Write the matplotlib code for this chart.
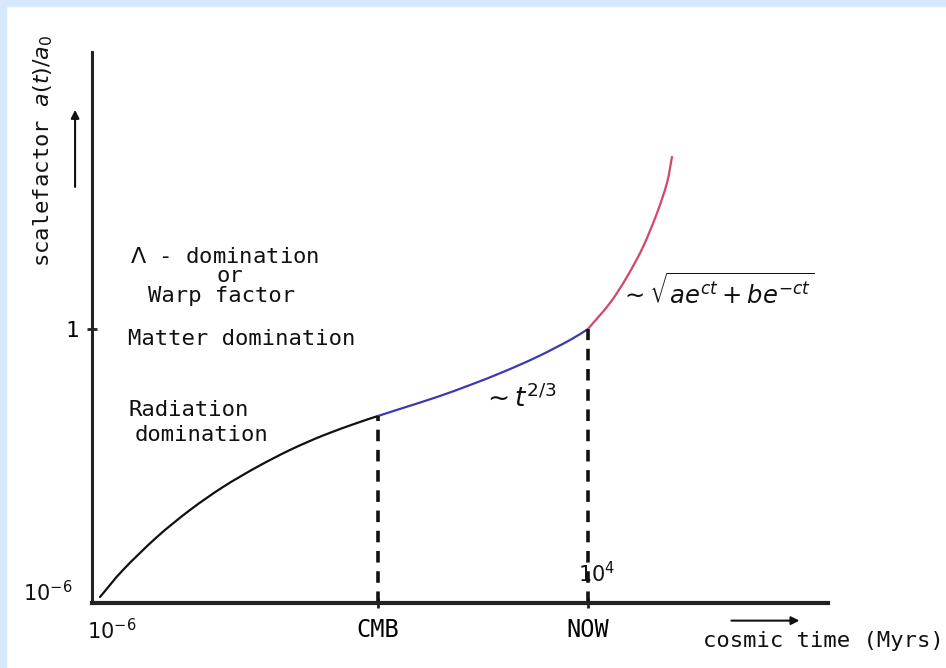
import numpy as np
import matplotlib.pyplot as plt
from matplotlib.patches import Rectangle, PathPatch
from matplotlib.path import Path

# schematic units (0-100 on both axes)
t_rad = [1.09, 4.21, 8.83, 13.32, 17.80, 22.42, 26.90, 31.39, 36.01, 38.86]
a_rad = [1.09, 5.99, 11.98, 16.88, 21.05, 24.68, 27.77, 30.40, 32.67, 33.94]

t_mat = [38.86, 42.26, 46.88, 51.36, 55.84, 60.46, 64.95, 67.39]
a_mat = [33.94, 35.40, 37.39, 39.56, 41.92, 44.65, 47.73, 49.73]

t_lam = [67.39, 70.38, 72.69, 74.86, 76.77, 78.12, 78.80]
a_lam = [49.73, 54.45, 59.20, 64.61, 70.78, 76.23, 80.94]

epoch_t = [38.86, 67.39]
epoch_a = [33.94, 49.73]
epoch_labels = ['CMB', 'NOW']


def smooth_path(x, y):
    # catmull-rom through the points, drawn as cubic bezier pieces
    p = np.column_stack([x, y])
    p = np.vstack([2 * p[0] - p[1], p, 2 * p[-1] - p[-2]])
    verts = [p[1]]
    codes = [Path.MOVETO]
    for i in range(1, len(p) - 2):
        c1 = p[i] + (p[i + 1] - p[i - 1]) / 6
        c2 = p[i + 1] - (p[i + 2] - p[i]) / 6
        verts += [c1, c2, p[i + 1]]
        codes += [Path.CURVE4] * 3
    return Path(verts, codes)


fig = plt.figure(figsize=(9.46, 6.68), dpi=100)
fig.patches.append(Rectangle((0, 1 - 6/668), 1, 6/668, transform=fig.transFigure,
                             color='#d6e8fb', zorder=0))
fig.patches.append(Rectangle((0, 0), 6/946, 1, transform=fig.transFigure,
                             color='#d6e8fb', zorder=0))

ax = fig.add_axes([92/946, 65/668, 736/946, 551/668])
ax.set_xlim(0, 100)
ax.set_ylim(0, 100)
ax.patch.set_alpha(0)
for s in ['top', 'right']:
    ax.spines[s].set_visible(False)
ax.spines['left'].set_linewidth(2.2)
ax.spines['bottom'].set_linewidth(3.0)
ax.spines['left'].set_color('#222222')
ax.spines['bottom'].set_color('#222222')

for tt, aa, col in [(t_rad, a_rad, '#111111'), (t_mat, a_mat, '#3b3bb0'),
                    (t_lam, a_lam, '#d2476a')]:
    ax.add_patch(PathPatch(smooth_path(tt, aa), facecolor='none', edgecolor=col,
                           lw=1.6, capstyle='round'))

for t, a in zip(epoch_t, epoch_a):
    ax.plot([t, t], [0, a], color='#111111', lw=2.6, dashes=(3.2, 2.4))

mono = 'DejaVu Sans Mono'
ax.set_xticks(epoch_t)
ax.set_xticklabels(epoch_labels, fontsize=17, family=mono)
ax.set_yticks([epoch_a[1]])
ax.set_yticklabels(['1'], fontsize=16, family=mono)
ax.tick_params(direction='inout', length=7, width=2, color='#222222', pad=6)
ax.tick_params(axis='x', pad=7)

tk = dict(fontsize=16, color='#111111', clip_on=False, family=mono)
mt = dict(color='#111111', clip_on=False)
ax.text(2.7, -2.8, '$10^{-6}$', ha='center', va='top', fontsize=15, **mt)
ax.text(-2.6, 1.8, '$10^{-6}$', ha='right', va='center', fontsize=15, **mt)
ax.text(68.6, 3.0, '$10^{4}$', ha='center', va='bottom', fontsize=15, **mt)

ax.text(5.2, 62.8, '$\\Lambda$ - domination', ha='left', va='center', **tk)
ax.text(18.8, 59.3, 'or', ha='center', va='center', **tk)
ax.text(7.6, 55.7, 'Warp factor', ha='left', va='center', **tk)
ax.text(4.9, 47.9, 'Matter domination', ha='left', va='center', **tk)
ax.text(4.9, 35.0, 'Radiation', ha='left', va='center', **tk)
ax.text(5.8, 30.4, 'domination', ha='left', va='center', **tk)
ax.text(53.0, 37.0, '$\\sim t^{2/3}$', ha='left', va='center', fontsize=19, **mt)
ax.text(71.8, 56.6, '$\\sim\\sqrt{ae^{ct}+be^{-ct}}$', ha='left', va='center',
        fontsize=17.5, **mt)

ax.text(83.0, -6.9, 'cosmic time (Myrs)', ha='left', va='center', **tk)
ax.annotate('', xy=(96.5, -3.2), xytext=(86.5, -3.2), xycoords='data',
            arrowprops=dict(arrowstyle='-|>', color='#111111', lw=1.5,
                            mutation_scale=12), annotation_clip=False)

ax.text(-6.6, 82.0, 'scalefactor $a(t)/a_0$', rotation=90, ha='center',
        va='center', **tk)
ax.annotate('', xy=(-2.3, 90.0), xytext=(-2.3, 75.0), xycoords='data',
            arrowprops=dict(arrowstyle='-|>', color='#111111', lw=1.5,
                            mutation_scale=12), annotation_clip=False)

fig.savefig('out.png', dpi=100)
